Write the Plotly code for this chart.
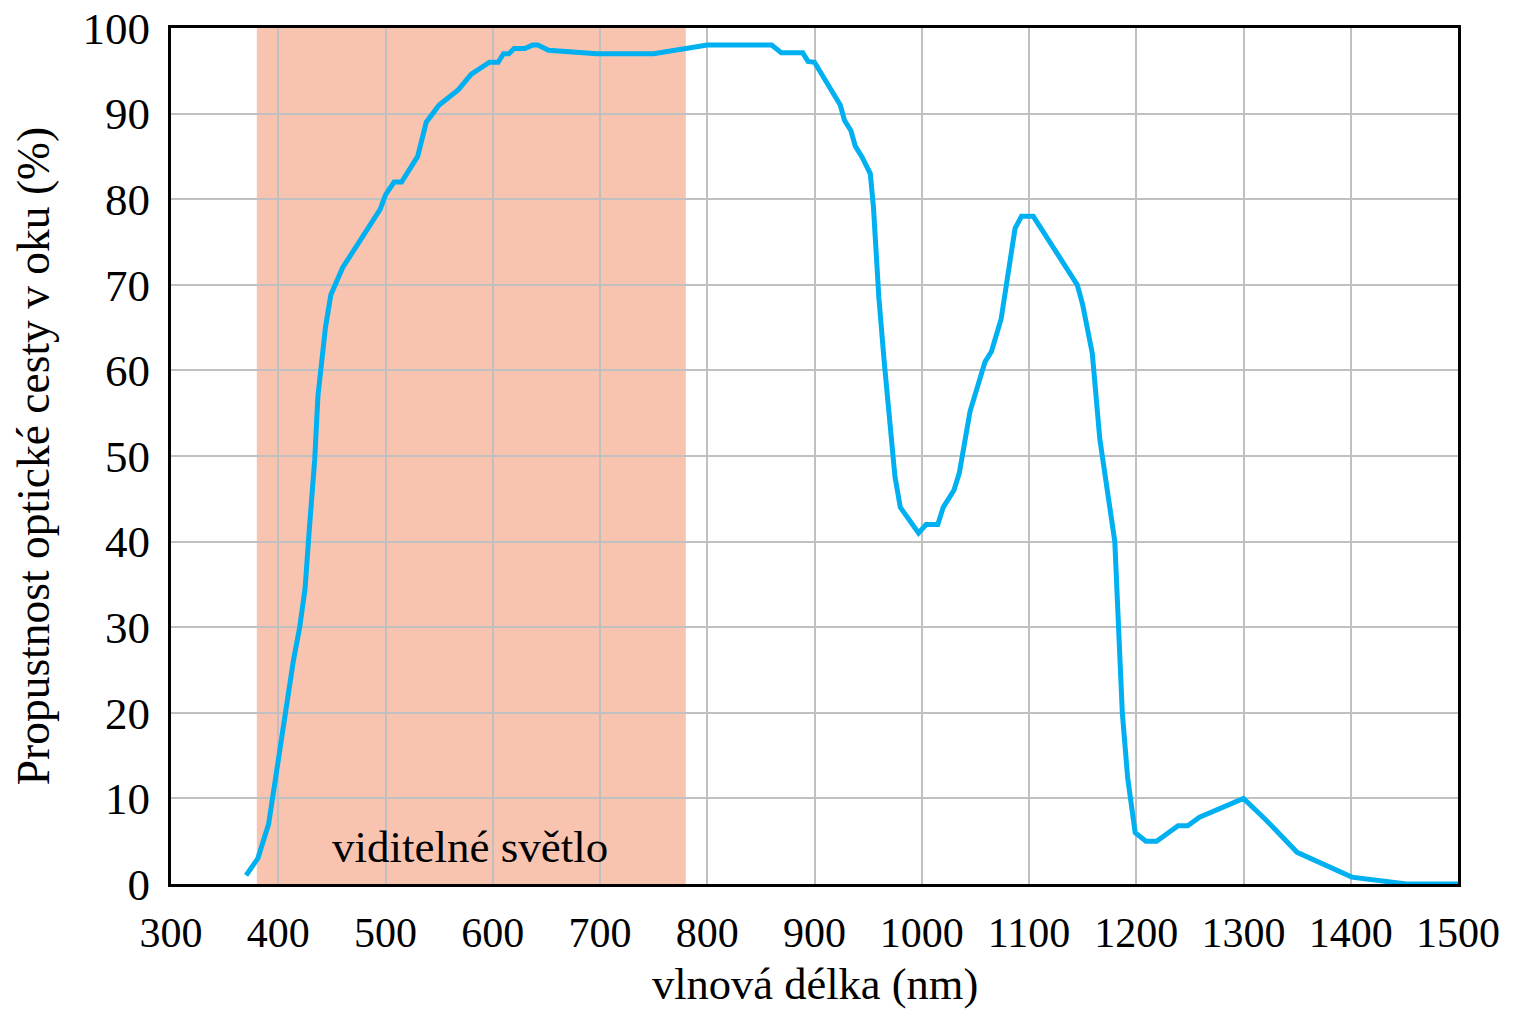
import plotly.graph_objects as go

# Data
wavelength_nm = [370, 381, 391, 398, 406, 414, 420, 425, 429, 434, 437, 440, 444, 449, 452, 455, 460,
                 495, 500, 508, 515, 530, 538, 550, 568, 580, 597, 605, 610, 615, 620, 630, 637, 642,
                 652, 697, 750, 800, 860, 869, 889, 894, 900, 924, 928, 934, 938, 944, 952, 955, 960,
                 965, 970, 975, 980, 997, 1004, 1015, 1020, 1030, 1035, 1040, 1045, 1059, 1065, 1074,
                 1087, 1093, 1104, 1145, 1150, 1159, 1166, 1180, 1183, 1187, 1192, 1199, 1209, 1219,
                 1239, 1248, 1259, 1300, 1320, 1350, 1401, 1452, 1500]
transmission_pct = [1, 3, 7, 13, 19.5, 26, 30, 34.5, 41.5, 49.6, 57, 60, 65, 68.8, 69.6, 70.5, 72,
                    78.8, 80.5, 82, 82, 85, 89, 91, 92.8, 94.6, 96, 96, 97, 97, 97.6, 97.6, 98, 98,
                    97.4, 97, 97, 98, 98, 97.1, 97.1, 96.1, 96, 91, 89.2, 88, 86.2, 85, 83, 79, 68.5,
                    61, 54.3, 47.6, 44, 41, 42, 42, 44, 46, 48, 51.8, 55.2, 61, 62.2, 66,
                    76.6, 78, 78, 70, 67.7, 62, 52, 40, 31.7, 20, 12.4, 6, 5, 5,
                    6.8, 6.8, 7.8, 10, 7.6, 3.7, 0.8, 0, 0]

visible_range_nm = [380, 780]
visible_label = "viditelné světlo"
visible_label_pos = [579, 4.3]

x_ticks = [300, 400, 500, 600, 700, 800, 900, 1000, 1100, 1200, 1300, 1400, 1500]
y_ticks = [0, 10, 20, 30, 40, 50, 60, 70, 80, 90, 100]

x_title = "vlnová délka (nm)"
y_title = "Propustnost optické cesty v oku (%)"

FONT = "Liberation Serif, Times New Roman, serif"

fig = go.Figure()
fig.add_trace(go.Scatter(
    x=wavelength_nm, y=transmission_pct, mode="lines",
    line=dict(color="#00b0f0", width=5),
    showlegend=False, hoverinfo="x+y",
))

fig.add_shape(type="rect", xref="x", yref="y",
              x0=visible_range_nm[0], x1=visible_range_nm[1], y0=0, y1=100,
              fillcolor="#f8c4b0", line=dict(width=0), layer="below")

fig.add_annotation(x=visible_label_pos[0], y=visible_label_pos[1], xref="x", yref="y",
                   text=visible_label, showarrow=False,
                   font=dict(family=FONT, size=45, color="black"))

# axis titles
fig.add_annotation(x=0.5, y=-0.117, xref="paper", yref="paper", text=x_title,
                   showarrow=False, xanchor="center", yanchor="middle", borderpad=0,
                   font=dict(family=FONT, size=44.5, color="black"))
fig.add_annotation(x=-0.107, y=0.5, xref="paper", yref="paper", text=y_title,
                   showarrow=False, xanchor="center", yanchor="middle", textangle=-90,
                   font=dict(family=FONT, size=45.5, color="black"))

fig.update_layout(
    width=1513, height=1012,
    margin=dict(l=171, r=55, t=28, b=128, autoexpand=False),
    paper_bgcolor="white", plot_bgcolor="white",
    font=dict(family=FONT, size=42, color="black"),
)
fig.update_xaxes(
    range=[300, 1500], tickvals=x_ticks, ticktext=[str(v) for v in x_ticks],
    showgrid=True, gridcolor="#c0c0c0", gridwidth=2,
    showline=True, linecolor="black", linewidth=3, mirror=True,
    ticks="", ticklen=0, ticklabelstandoff=10, zeroline=False, automargin=False,
    tickfont=dict(family=FONT, size=42),
)
fig.update_yaxes(
    range=[0, 100], tickvals=y_ticks, ticktext=[str(v) for v in y_ticks],
    showgrid=True, gridcolor="#c0c0c0", gridwidth=2,
    showline=True, linecolor="black", linewidth=3, mirror=True,
    ticks="", ticklen=0, ticklabelstandoff=9, zeroline=False, automargin=False,
    tickfont=dict(family=FONT, size=45),
)

fig.write_html("out.html")
